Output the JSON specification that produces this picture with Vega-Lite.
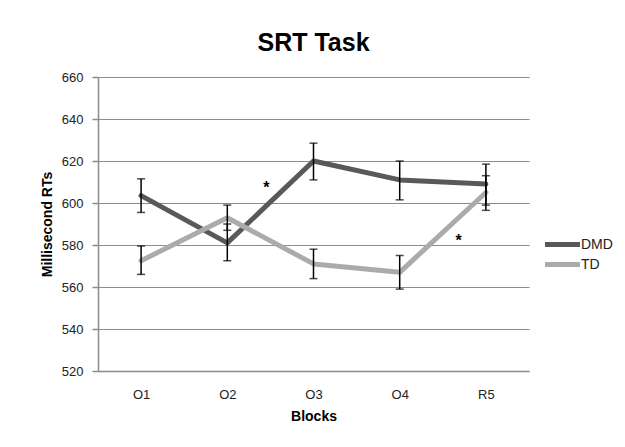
{
  "$schema": "https://vega.github.io/schema/vega-lite/v6.json",
  "width": 431,
  "height": 294,
  "autosize": {"type": "none"},
  "padding": {"left": 98, "top": 77, "right": 96, "bottom": 76},
  "background": "white",
  "config": {
    "font": "Liberation Sans",
    "view": {"stroke": null}
  },
  "title": {
    "text": "SRT Task",
    "fontSize": 25,
    "fontWeight": "bold",
    "color": "#000000",
    "anchor": "middle",
    "offset": 15
  },
  "data": {
    "values": [
      {"block": "O1", "group": "DMD", "mean": 603.5, "lo": 595.5, "hi": 611.5},
      {"block": "O2", "group": "DMD", "mean": 581, "lo": 572.5, "hi": 590},
      {"block": "O3", "group": "DMD", "mean": 620, "lo": 611, "hi": 628.5},
      {"block": "O4", "group": "DMD", "mean": 611, "lo": 601.5, "hi": 620},
      {"block": "R5", "group": "DMD", "mean": 609, "lo": 599, "hi": 618.5},
      {"block": "O1", "group": "TD", "mean": 572.5, "lo": 566, "hi": 579.5},
      {"block": "O2", "group": "TD", "mean": 593, "lo": 587, "hi": 599},
      {"block": "O3", "group": "TD", "mean": 571, "lo": 564, "hi": 578},
      {"block": "O4", "group": "TD", "mean": 567, "lo": 559, "hi": 575},
      {"block": "R5", "group": "TD", "mean": 605, "lo": 596.5, "hi": 613}
    ]
  },
  "encoding": {
    "x": {
      "field": "block",
      "type": "ordinal",
      "sort": ["O1", "O2", "O3", "O4", "R5"],
      "scale": {"type": "point", "padding": 0.5},
      "axis": {
        "title": "Blocks",
        "titleFontSize": 14,
        "titleFontWeight": "bold",
        "titleColor": "#000000",
        "titlePadding": 8,
        "labelFontSize": 13,
        "labelColor": "#222222",
        "labelPadding": 17,
        "labelAngle": 0,
        "ticks": false,
        "grid": false,
        "domainColor": "#8c8c8c",
        "domainWidth": 1.5
      }
    }
  },
  "layer": [
    {
      "mark": {"type": "line", "strokeWidth": 5, "strokeCap": "round", "strokeJoin": "round"},
      "encoding": {
        "y": {
          "field": "mean",
          "type": "quantitative",
          "scale": {"domain": [520, 660], "nice": false, "zero": false},
          "axis": {
            "title": "Millisecond RTs",
            "titleFontSize": 14,
            "titleFontWeight": "bold",
            "titleColor": "#000000",
            "titlePadding": 7,
            "values": [520, 540, 560, 580, 600, 620, 640, 660],
            "labelFontSize": 13,
            "labelColor": "#222222",
            "labelPadding": 9,
            "tickSize": 6,
            "tickColor": "#8c8c8c",
            "tickWidth": 1.5,
            "gridColor": "#8c8c8c",
            "gridWidth": 1.2,
            "domainColor": "#8c8c8c",
            "domainWidth": 1.5
          }
        },
        "color": {
          "field": "group",
          "type": "nominal",
          "scale": {"domain": ["DMD", "TD"], "range": ["#595959", "#ababab"]},
          "legend": {
            "title": null,
            "orient": "none",
            "legendX": 455,
            "legendY": 158,
            "symbolType": "M-2.5,0H2.5",
            "symbolStrokeWidth": 5,
            "symbolSize": 196,
            "labelFontSize": 14,
            "labelColor": "#222222",
            "labelOffset": 9,
            "rowPadding": -1
          }
        }
      }
    },
    {
      "mark": {"type": "rule", "color": "#000000", "strokeWidth": 1.5},
      "encoding": {
        "y": {"field": "lo", "type": "quantitative"},
        "y2": {"field": "hi"},
        "detail": {"field": "group"}
      }
    },
    {
      "mark": {"type": "tick", "color": "#000000", "size": 8, "thickness": 1.5},
      "encoding": {
        "y": {"field": "lo", "type": "quantitative"}
      }
    },
    {
      "mark": {"type": "tick", "color": "#000000", "size": 8, "thickness": 1.5},
      "encoding": {
        "y": {"field": "hi", "type": "quantitative"}
      }
    },
    {
      "data": {"values": [{"block": "O2", "y": 607, "label": "*"}]},
      "mark": {"type": "text", "fontSize": 16, "fontWeight": "bold", "dx": 39, "baseline": "middle", "color": "#000000"},
      "encoding": {
        "y": {"field": "y", "type": "quantitative"},
        "text": {"field": "label"}
      }
    },
    {
      "data": {"values": [{"block": "O4", "y": 582, "label": "*"}]},
      "mark": {"type": "text", "fontSize": 16, "fontWeight": "bold", "dx": 59, "baseline": "middle", "color": "#000000"},
      "encoding": {
        "y": {"field": "y", "type": "quantitative"},
        "text": {"field": "label"}
      }
    }
  ]
}
